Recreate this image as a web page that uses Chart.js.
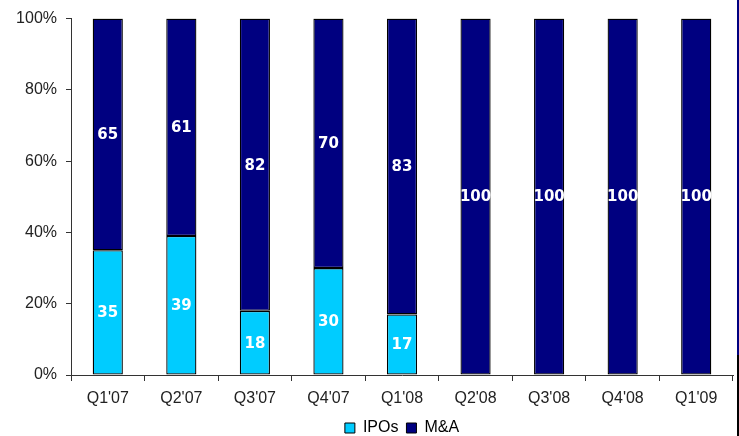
<!DOCTYPE html>
<html>
<head>
<meta charset="utf-8">
<script src="https://cdn.jsdelivr.net/npm/chart.js@4.4.1/dist/chart.umd.min.js"></script>
<style>
    html, body { margin: 0; padding: 0; background: #fff; }
    #wrap { position: relative; width: 739px; height: 436px; }
    #edge { position: absolute; left: 737px; top: 0; width: 2px; height: 355px; background: #000080; }
    #edge2 { position: absolute; left: 737px; top: 355px; width: 2px; height: 81px; background: #000; }
</style>
</head>
<body>
<div id="wrap">
    <canvas id="myChart" width="739" height="436"></canvas>
    <div id="edge"></div>
    <div id="edge2"></div>
</div>
<script>
var quarters = ["Q1'07", "Q2'07", "Q3'07", "Q4'07", "Q1'08", "Q2'08", "Q3'08", "Q4'08", "Q1'09"];
var ipos = [35, 39, 18, 30, 17, 0, 0, 0, 0];
var mna = [65, 61, 82, 70, 83, 100, 100, 100, 100];
var pctTicks = [0, 20, 40, 60, 80, 100];

// white numbers in the middle of each segment
var barLabels = {
    id: "barLabels",
    afterDatasetsDraw: function (chart) {
        var ctx = chart.ctx;
        ctx.save();
        ctx.fillStyle = "#fff";
        ctx.font = "bold 15px 'DejaVu Sans'";
        ctx.textAlign = "center";
        ctx.textBaseline = "middle";
        chart.data.datasets.forEach(function (ds, i) {
            chart.getDatasetMeta(i).data.forEach(function (bar, j) {
                var v = ds.data[j];
                if (!v) return;
                ctx.fillText(v, bar.x, (bar.y + bar.base) / 2 + 1);
            });
        });
        ctx.restore();
    }
};

var axisFont = { family: "'Liberation Sans', Arial", size: 16 };

const ctx = document.getElementById("myChart");
var myChart = new Chart(ctx, {
    type: "bar",
    data: {
        labels: quarters,
        datasets: [
            {
                label: "IPOs",
                data: ipos,
                backgroundColor: "#00CCFF",
                borderColor: "#000",
                borderWidth: 1.3,
                borderSkipped: false,
                barPercentage: 0.41,
                categoryPercentage: 1,
            },
            {
                label: "M&A",
                data: mna,
                backgroundColor: "#000080",
                borderColor: "#000",
                borderWidth: 1.3,
                borderSkipped: false,
                barPercentage: 0.41,
                categoryPercentage: 1,
            },
        ],
    },
    options: {
        responsive: false,
        animation: false,
        layout: { padding: { top: 17, right: 6, left: 0, bottom: -10 } },
        plugins: {
            tooltip: { enabled: false },
            legend: {
                position: "bottom",
                fullSize: false,
                labels: {
                    color: "#222",
                    font: axisFont,
                    boxWidth: 10,
                    boxHeight: 10,
                    padding: 8,
                    generateLabels: function (chart) {
                        return chart.data.datasets.map(function (ds, i) {
                            return {
                                text: ds.label,
                                fillStyle: ds.backgroundColor,
                                strokeStyle: "#000",
                                lineWidth: 1,
                                datasetIndex: i,
                            };
                        });
                    },
                },
            },
        },
        scales: {
            x: {
                stacked: true,
                border: { color: "#333", width: 1 },
                grid: { display: true, drawOnChartArea: false, offset: true, tickLength: 6, color: "#333" },
                ticks: { color: "#222", font: axisFont, padding: 8, maxRotation: 0 },
                afterFit: function (scale) { scale.height = 37; },
            },
            y: {
                stacked: true,
                min: 0,
                max: 100,
                border: { color: "#333", width: 1 },
                grid: { display: true, drawOnChartArea: false, tickLength: 5, color: "#333" },
                afterBuildTicks: function (scale) {
                    scale.ticks = pctTicks.map(function (v) { return { value: v }; });
                },
                ticks: {
                    color: "#222",
                    font: axisFont,
                    padding: 9,
                    callback: function (v) { return v + "%"; },
                },
                afterFit: function (scale) { scale.width = 71; },
            },
        },
    },
    plugins: [barLabels],
});
</script>
</body>
</html>
